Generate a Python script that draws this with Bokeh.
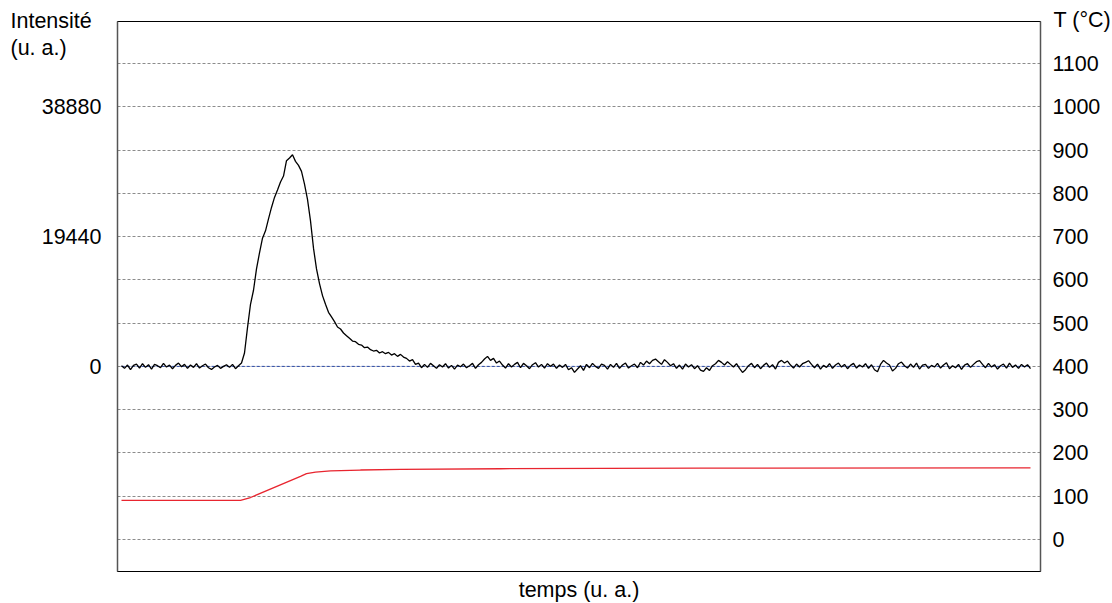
from bokeh.plotting import figure
from bokeh.models import Range1d, LinearAxis, FixedTicker, ColumnDataSource, Title
from bokeh.embed import file_html
from bokeh.resources import INLINE

# ---------------- data ----------------
# intensity (u. a.) sampled every 3 time units
intensity = [
    100, -300, 200, -500, 150, 350, -250, 400, -150, 250,
    -400, 300, 100, -200, 450, -100, 200, -350, 150, 500,
    -50, 300, -300, 200, -150, 400, -250, 100, 350, -200,
    -450, -100, 150, -300, 0, 250, -150, 300, -350, 100,
    500,
    2000, 5800, 9300, 11400, 14600, 17000, 19200, 20300, 22100, 23800,
    25300, 26400, 27600, 28500, 30800, 31200, 31700, 30700, 30100, 29200,
    27300, 25000, 21800, 17700, 14600, 12400, 10600, 9300, 8100, 7400,
    6700, 5900, 5600, 5000, 4600, 4200, 3800, 3700, 3300, 3200,
    2800, 2900, 2500, 2300, 2400, 2000, 2200, 1900, 2100, 1700,
    1900, 1500, 1800, 1400, 1200, 800, 1000, 300, 500, -200,
    300, -150, 450, 100, -300, 250, -100, 400, -250, 150,
    -400, 200, -50, 350, -200, 100, 450, -300, 250, 600,
    1100, 1500, 900, 1200, 500, 800, 200, -250, 400, -100,
    300, 600, -200, 450, 100, -350, 250, 550, -100, 300,
    -250, 400, 0, 350, -300, 200, -150, 300, -500, -200,
    -900, -400, 100, -600, 300, -200, 450, 0, -300, 350,
    150, -400, 300, -150, 450, -300, 200, 500, -250, 100,
    350, -200, 600, 200, 800, 400, 900, 1100, 700, 300,
    1000, 600, 100, 400, -300, 200, -400, 350, -100, 250,
    -350, 100, -550, -750, -200, -600, 100, 400, 900, 600,
    200, 700, 300, -100, 400, -300, -900, -500, 100, 450,
    -200, 300, -350, 150, 500, -150, 250, -400, 600, 900,
    500, 800, 200, -250, 350, -100, 400, 600, 850, 300,
    -200, 350, -400, 150, -150, 400, -300, 200, 500, -100,
    300, -350, 150, 450, -250, 200, -100, 400, -300, 250,
    -500, -800, 300, 900, 500, 200, -700, -300, 400, 650,
    100, -250, 350, -150, 500, -400, 200, 300, -300, 150,
    -100, 450, -250, 200, 550, -350, 100, -200, 300, -450,
    200, 400, -150, 300, 700, 850, 300, -200, 450, -100,
    250, -400, 100, 350, -250, 500, -150, 200, -300, 300,
    -100, 250, -350,
]
time = [3 * i for i in range(len(intensity))]

# temperature (°C)
temp_time = [0, 119, 129, 179, 185, 194, 209, 239, 279, 379, 579, 909]
temp_values = [90.5, 90.5, 97, 146, 152, 155.5, 158.5, 160.5, 161.8, 163.5, 164.8, 165.5]

left_ticks = [0, 19440, 38880]
temp_ticks = [0, 100, 200, 300, 400, 500, 600, 700, 800, 900, 1000, 1100]

# intensity 0 <-> 400 °C, 38880 <-> 1000 °C
T_ZERO = 400
SCALE = 38880 / 600.0
T_MIN, T_MAX = -74, 1197

FONT = "Liberation Sans"
FS = "21.5px"

p = figure(
    frame_width=923, frame_height=550,
    min_border_left=117, min_border_right=72, min_border_top=21, min_border_bottom=30,
    x_range=Range1d(-4, 919),
    y_range=Range1d((T_MIN - T_ZERO) * SCALE, (T_MAX - T_ZERO) * SCALE),
    output_backend="svg", toolbar_location=None,
    background_fill_color="white", border_fill_color="white",
)
p.extra_y_ranges = {"temp": Range1d(T_MIN, T_MAX)}

p.outline_line_color = "black"
p.outline_line_width = 1
p.xgrid.visible = False
p.ygrid.ticker = FixedTicker(ticks=[(t - T_ZERO) * SCALE for t in temp_ticks])
p.ygrid.grid_line_color = "#8c8c8c"
p.ygrid.grid_line_dash = "3 2"
p.ygrid.grid_line_width = 1

# left axis
ya = p.yaxis[0]
ya.ticker = FixedTicker(ticks=left_ticks)
ya.major_tick_out = 0
ya.major_tick_in = 0
ya.minor_tick_out = 0
ya.minor_tick_in = 0
ya.axis_line_color = "#555555"
ya.axis_line_width = 1.5
ya.major_label_standoff = 16
ya.major_label_text_font = FONT
ya.major_label_text_font_size = FS
ya.major_label_text_color = "black"

# right axis
ra = LinearAxis(y_range_name="temp", ticker=FixedTicker(ticks=temp_ticks))
ra.major_tick_out = 0
ra.major_tick_in = 0
ra.minor_tick_out = 0
ra.minor_tick_in = 0
ra.axis_line_color = "#555555"
ra.axis_line_width = 1.5
ra.major_label_standoff = 12
ra.major_label_text_font = FONT
ra.major_label_text_font_size = FS
ra.major_label_text_color = "black"
p.add_layout(ra, "right")

# bottom axis
xa = p.xaxis[0]
xa.ticker = FixedTicker(ticks=[])
xa.major_tick_out = 0
xa.minor_tick_out = 0
xa.axis_line_color = "black"
xa.axis_label = "temps (u. a.)"
xa.axis_label_text_font = FONT
xa.axis_label_text_font_size = FS
xa.axis_label_text_font_style = "normal"
xa.axis_label_text_color = "black"
xa.axis_label_standoff = 6

# baseline (blue dashed)
p.line([time[0], time[-1]], [0, 0], line_color="#2f4fb0", line_dash="3 2", line_width=1)

# intensity
src = ColumnDataSource(dict(t=time, i=intensity))
p.line("t", "i", source=src, line_color="black", line_width=1.3)

# temperature
p.line(temp_time, temp_values, y_range_name="temp", line_color="#e8252f", line_width=1.3)

# titles of the vertical axes (placed in the top border)
t_temp = Title(text="T (°C)", align="left", vertical_align="top",
               offset=936, standoff=-25, text_font=FONT, text_font_size=FS,
               text_font_style="normal", text_color="black")
t_int = Title(text="Intensité\n(u. a.)", align="left", vertical_align="bottom",
              offset=-107, standoff=-80, text_font=FONT, text_font_size=FS,
              text_font_style="normal", text_color="black", text_line_height=1.13)
p.add_layout(t_temp, "above")
p.add_layout(t_int, "above")

open("out.html", "w").write(file_html(p, INLINE))
